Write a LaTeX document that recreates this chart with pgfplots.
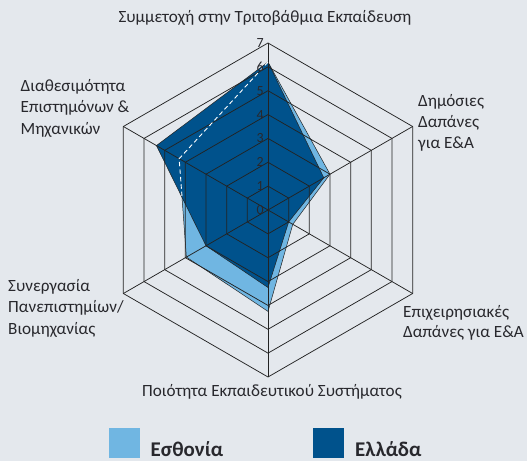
\documentclass[border=0pt]{standalone}
\usepackage{fontspec}
\setmainfont{Carlito}
\usepackage{pgfplots}
\pgfplotsset{compat=1.18}
\usepgfplotslibrary{polar}
\definecolor{bg}{RGB}{228,232,237}
\definecolor{est}{RGB}{112,182,226}
\definecolor{gre}{RGB}{0,82,140}
\definecolor{gridc}{RGB}{35,35,35}
\definecolor{txt}{RGB}{40,40,45}

\begin{document}
\begin{tikzpicture}[x=1bp,y=1bp]
\fill[bg] (0,0) rectangle (527,461);
\begin{polaraxis}[
    at={(268bp,251bp)}, anchor=center,
    scale only axis, width=334bp, height=334bp,
    ymin=0, ymax=7, xmin=0, xmax=360,
    hide axis, clip=false]
  % Estonia
  \addplot[fill=est, draw=gridc, line width=0.5pt]
    coordinates {(90,6.2) (30,3.0) (-30,1.2) (-90,4.25) (-150,3.95) (150,4.3) (90,6.2)};
  % Greece
  \addplot[fill=gre, draw=gridc, line width=0.5pt]
    coordinates {(90,6.2) (30,2.7) (-30,1.0) (-90,3.25) (-150,3.0) (150,5.4) (90,6.2)};
  % hexagonal grid
  \pgfplotsinvokeforeach{1,...,7}{
    \addplot[gridc, line width=0.75pt]
      coordinates {(90,#1) (30,#1) (-30,#1) (-90,#1) (-150,#1) (150,#1) (90,#1)};
  }
  \pgfplotsinvokeforeach{90,30,-30,-90,-150,150}{
    \addplot[gridc, line width=0.75pt] coordinates {(#1,0) (#1,7)};
  }
  % Estonia outline hidden under Greece
  \addplot[white, line width=0.9pt, dash pattern=on 4.5pt off 3pt]
    coordinates {(90,6.2) (150,4.3) (171.7,3.64)};
  \pgfplotsinvokeforeach{0,...,7}{
    \node[anchor=east, text=txt, font=\fontsize{14}{14}\selectfont, inner sep=0pt]
      at (axis cs:90,#1) [xshift=-4bp] {#1};
  }
\end{polaraxis}
\begin{scope}[text=txt, font=\fontsize{17.2}{20}\selectfont, inner sep=0pt]
  \node[anchor=base] at (265,461-23) {Συμμετοχή στην Τριτοβάθμια Εκπαίδευση};
  \node[anchor=base west] at (418,461-106.5) {Δημόσιες};
  \node[anchor=base west] at (418,461-128) {Δαπάνες};
  \node[anchor=base west] at (418,461-148.5) {για Ε\&Α};
  \node[anchor=base west] at (403,461-318) {Επιχειρησιακές};
  \node[anchor=base west] at (403,461-338) {Δαπάνες για Ε\&Α};
  \node[anchor=base] at (272,461-396.5) {Ποιότητα Εκπαιδευτικού Συστήματος};
  \node[anchor=base west] at (8,461-291.5) {Συνεργασία};
  \node[anchor=base west] at (8,461-313) {Πανεπιστημίων/};
  \node[anchor=base west] at (8,461-335) {Βιομηχανίας};
  \node[anchor=base west] at (20.5,461-91.5) {Διαθεσιμότητα};
  \node[anchor=base west] at (20.5,461-113) {Επιστημόνων \&};
  \node[anchor=base west] at (20.5,461-135) {Μηχανικών};
\end{scope}
% legend
\fill[est] (109,2.5) rectangle (140,33);
\fill[gre] (313,2.5) rectangle (344,33);
\node[anchor=base west, inner sep=0pt, text depth=0pt, text=txt, font=\fontsize{21}{21}\selectfont\bfseries] at (150.5,4) {Εσθονία};
\node[anchor=base west, inner sep=0pt, text depth=0pt, text=txt, font=\fontsize{21}{21}\selectfont\bfseries] at (355,4) {Ελλάδα};
\end{tikzpicture}
\end{document}
